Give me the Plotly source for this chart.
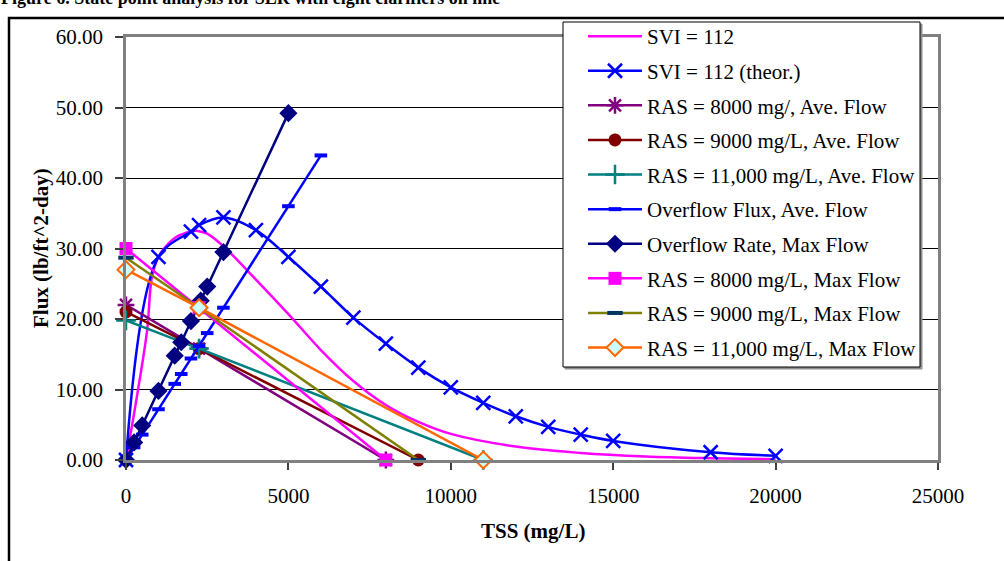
import plotly.graph_objects as go

# ---- data -------------------------------------------------------------
# Measured settling flux curve (SVI = 112)
svi_x = [0, 300, 650, 800, 1000, 1250, 1500, 2000, 2200, 2500, 3000, 4000, 5000,
         6000, 7000, 8000, 9000, 10000, 12000, 14000, 16000, 18000, 20000]
svi_y = [0, 8.0, 18.4, 26.0, 28.8, 30.4, 31.5, 32.4, 32.5, 32.1, 30.3, 25.6, 20.7,
         15.6, 11.2, 7.8, 5.4, 3.7, 1.9, 1.0, 0.5, 0.25, 0.1]

# Theoretical flux curve (SVI = 112)
theor_x = [0, 1000, 2000, 2250, 3000, 4000, 5000, 6000, 7000, 8000, 9000,
           10000, 11000, 12000, 13000, 14000, 15000, 18000, 20000]
theor_y = [0, 28.8, 32.4, 33.3, 34.4, 32.6, 28.8, 24.6, 20.2, 16.5, 13.1,
           10.3, 8.1, 6.2, 4.7, 3.6, 2.7, 1.1, 0.6]

# Underflow operating lines (state point at 2250 mg/L)
ras8000_x = [0, 2250, 8000]
ras9000_x = [0, 2250, 9000]
ras11000_x = [0, 2250, 11000]

ras8000_ave_y = [22.0, 15.8, 0]
ras9000_ave_y = [21.0, 15.8, 0]
ras11000_ave_y = [19.8, 15.8, 0]

ras8000_max_y = [30.0, 21.6, 0]
ras9000_max_y = [28.7, 21.6, 0]
ras11000_max_y = [27.0, 21.6, 0]

# Overflow lines
ovf_ave_x = [0, 250, 500, 1000, 1500, 1700, 2000, 2250, 2500, 3000, 5000, 6000]
ovf_ave_y = [0, 1.8, 3.6, 7.2, 10.8, 12.2, 14.4, 16.2, 18.0, 21.6, 36.0, 43.2]
ovf_max_x = [0, 250, 500, 1000, 1500, 1700, 2000, 2300, 2500, 3000, 5000]
ovf_max_y = [0, 2.5, 4.9, 9.8, 14.8, 16.7, 19.7, 22.6, 24.6, 29.5, 49.2]

x_ticks = [0, 5000, 10000, 15000, 20000, 25000]
y_ticks = [0, 10, 20, 30, 40, 50, 60]

FONT = "Liberation Serif"
W, H = 1004, 561
L, R, T, B = 126, 66, 37, 101
PW, PH = W - L - R, H - T - B


def px_to_paper_x(px):
    return (px - L) / PW


def px_to_paper_y(py):
    return (H - B - py) / PH


fig = go.Figure()
n = [0]


def add(name, x, y, color, symbol=None, msize=13, mcolor=None, mfill=None,
        mline=2, spline=False, width=2.5):
    n[0] += 1
    marker = None
    mode = "lines"
    if symbol:
        mode = "lines+markers"
        mc = mcolor or color
        marker = dict(symbol=symbol, size=msize,
                      color=mfill if mfill else mc,
                      line=dict(color=mc, width=mline))
    fig.add_trace(go.Scatter(
        x=x, y=y, name=name, mode=mode, marker=marker,
        line=dict(color=color, width=width,
                  shape="spline" if spline else "linear",
                  smoothing=1.0 if spline else None),
        legendgroup="g%d" % n[0], cliponaxis=False,
    ))


add("SVI = 112", svi_x, svi_y, "#FF00FF", spline=True)
add("SVI = 112 (theor.)", theor_x, theor_y, "#0000FF", symbol="x-thin-open",
    msize=14, mline=2.5, spline=True)
add("RAS = 8000 mg/, Ave. Flow", ras8000_x, ras8000_ave_y, "#800080",
    symbol="asterisk-open", msize=14, mline=2.5)
add("RAS = 9000 mg/L, Ave. Flow", ras9000_x, ras9000_ave_y, "#800000",
    symbol="circle", msize=13, mline=0)
add("RAS = 11,000 mg/L, Ave. Flow", ras11000_x, ras11000_ave_y, "#008080",
    symbol="cross-thin-open", msize=14, mline=2.5)
add("Overflow Flux, Ave. Flow", ovf_ave_x, ovf_ave_y, "#0000FF",
    symbol="line-ew-open", msize=9, mline=4)
add("Overflow Rate, Max Flow", ovf_max_x, ovf_max_y, "#000080",
    symbol="diamond", msize=14, mline=0)
add("RAS = 8000 mg/L, Max Flow", ras8000_x, ras8000_max_y, "#FF00FF",
    symbol="square", msize=13, mline=0)
add("RAS = 9000 mg/L, Max Flow", ras9000_x, ras9000_max_y, "#808000",
    symbol="line-ew-open", msize=11, mcolor="#003366", mline=4)
add("RAS = 11,000 mg/L, Max Flow", ras11000_x, ras11000_max_y, "#FF6600",
    symbol="diamond", msize=13, mfill="#CCFFFF", mline=2)

axis_common = dict(
    showline=True, linecolor="#808080", linewidth=2.5, mirror=True,
    ticks="outside", tickcolor="#404040", tickwidth=1.5,
    tickfont=dict(family=FONT, size=21, color="black"),
    zeroline=False,
)

fig.update_xaxes(range=[0, 25000], tickvals=x_ticks,
                 ticktext=[str(v) for v in x_ticks],
                 showgrid=False, ticklen=7, ticklabelstandoff=8, **axis_common)
fig.update_yaxes(range=[0, 60], tickvals=y_ticks,
                 ticktext=["%.2f" % v for v in y_ticks],
                 showgrid=True, gridcolor="black", gridwidth=1,
                 ticklen=8, ticklabelstandoff=8, **axis_common)

# legend frame (box + light shadow) drawn as shapes, entries on top
leg_x0, leg_x1, leg_y0, leg_y1 = 563, 920, 22, 367

fig.update_layout(
    width=W, height=H,
    margin=dict(l=L, r=R, t=T, b=B, autoexpand=False),
    paper_bgcolor="white", plot_bgcolor="white",
    font=dict(family=FONT, size=21, color="black"),
    showlegend=True,
    legend=dict(
        x=px_to_paper_x(583), y=px_to_paper_y(16),
        xanchor="left", yanchor="top",
        bgcolor="rgba(0,0,0,0)", borderwidth=0,
        font=dict(family=FONT, size=21, color="black"),
        tracegroupgap=4.3, itemwidth=54, maxheight=560,
    ),
    shapes=[
        # outer chart frame
        dict(type="rect", xref="paper", yref="paper",
             x0=px_to_paper_x(9), x1=px_to_paper_x(1020),
             y0=px_to_paper_y(600), y1=px_to_paper_y(18),
             line=dict(color="black", width=2.5), fillcolor="rgba(0,0,0,0)",
             layer="below"),
        # legend shadow
        dict(type="rect", xref="paper", yref="paper",
             x0=px_to_paper_x(leg_x0 + 2), x1=px_to_paper_x(leg_x1 + 2),
             y0=px_to_paper_y(leg_y1 + 2), y1=px_to_paper_y(leg_y0 + 2),
             line=dict(color="#909090", width=1), fillcolor="#909090",
             layer="above"),
        # legend box
        dict(type="rect", xref="paper", yref="paper",
             x0=px_to_paper_x(leg_x0), x1=px_to_paper_x(leg_x1),
             y0=px_to_paper_y(leg_y1), y1=px_to_paper_y(leg_y0),
             line=dict(color="black", width=1), fillcolor="white",
             layer="above"),
    ],
    annotations=[
        dict(text="<b>Figure 6. State point analysis for SLR with eight clarifiers on line</b>",
             xref="paper", yref="paper", x=px_to_paper_x(-1), y=px_to_paper_y(-2),
             xanchor="left", yanchor="middle", showarrow=False,
             font=dict(family=FONT, size=18, color="black")),
        dict(text="<b>TSS (mg/L)</b>", xref="paper", yref="paper",
             x=px_to_paper_x(533), y=px_to_paper_y(531),
             xanchor="center", yanchor="middle", showarrow=False,
             font=dict(family=FONT, size=21, color="black")),
        dict(text="<b>Flux (lb/ft^2-day)</b>", xref="paper", yref="paper",
             x=px_to_paper_x(41), y=px_to_paper_y(248), textangle=-90,
             xanchor="center", yanchor="middle", showarrow=False,
             font=dict(family=FONT, size=21, color="black")),
    ],
)

fig.write_html("out.html")
